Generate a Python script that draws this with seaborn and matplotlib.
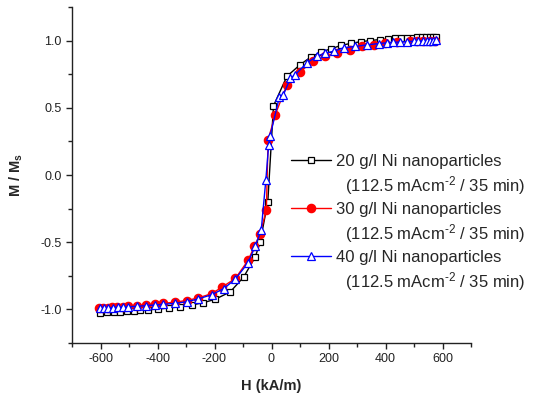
import matplotlib
matplotlib.use("Agg")
import matplotlib.pyplot as plt
from matplotlib.lines import Line2D
from matplotlib.ticker import MultipleLocator, FormatStrFormatter
import seaborn as sns

# Magnetisation curves, M/Ms versus applied field H (kA/m)
h_20 = [-601, -578, -554, -531, -507, -484, -461, -432, -397, -361, -320, -279, -239,
        -198, -145, -98, -57, -40, -13, 7, 54, 100, 138, 174, 210, 245, 280, 313, 346,
        380, 408, 432, 455, 475, 495, 512, 528, 543, 556, 567, 577]
m_20 = [-1.025, -1.023, -1.021, -1.018, -1.015, -1.012, -1.008, -1.003, -0.997, -0.990,
        -0.980, -0.967, -0.950, -0.925, -0.870, -0.760, -0.610, -0.500, -0.200, 0.515,
        0.734, 0.820, 0.878, 0.915, 0.940, 0.965, 0.980, 0.992, 1.000, 1.008, 1.012,
        1.016, 1.019, 1.021, 1.023, 1.025, 1.026, 1.027, 1.028, 1.029, 1.030]

h_30 = [-604, -590, -575, -558, -541, -522, -503, -473, -441, -409, -380, -339, -298,
        -258, -210, -174, -127, -82, -60, -40, -18, -12, 13, 54, 101, 147, 188, 229,
        276, 317, 358, 399, 440, 487, 510, 533, 555, 574]
m_30 = [-0.990, -0.988, -0.986, -0.984, -0.982, -0.979, -0.976, -0.972, -0.967, -0.961,
        -0.955, -0.946, -0.934, -0.915, -0.883, -0.835, -0.770, -0.635, -0.530, -0.440,
        -0.260, 0.260, 0.448, 0.670, 0.770, 0.846, 0.883, 0.908, 0.933, 0.957, 0.970,
        0.983, 0.987, 0.995, 0.998, 1.000, 1.000, 1.000]

h_40 = [-602, -588, -573, -557, -540, -521, -502, -472, -440, -408, -379, -338, -297,
        -257, -209, -168, -127, -83, -57, -36, -20, -10, -5, 28, 42, 66, 83, 124, 159,
        189, 218, 253, 294, 335, 376, 404, 428, 452, 475, 499, 515, 530, 545, 557, 567,
        576]
m_40 = [-0.990, -0.989, -0.988, -0.986, -0.984, -0.982, -0.980, -0.977, -0.972, -0.967,
        -0.962, -0.955, -0.943, -0.922, -0.890, -0.846, -0.775, -0.655, -0.530, -0.410,
        -0.040, 0.220, 0.290, 0.584, 0.597, 0.720, 0.746, 0.834, 0.883, 0.908, 0.920,
        0.946, 0.957, 0.968, 0.978, 0.983, 0.987, 0.990, 0.993, 0.995, 0.997, 0.998,
        0.999, 1.000, 1.000, 1.001]

series_labels = ["20 g/l Ni nanoparticles", "30 g/l Ni nanoparticles",
                 "40 g/l Ni nanoparticles"]
condition_label = "  (112.5 mAcm$^{\u20102}$ / 35 min)"

sns.set_theme(style="ticks")
plt.rcParams["font.family"] = ["Liberation Sans", "DejaVu Sans"]
plt.rcParams["axes.unicode_minus"] = False
plt.rcParams["mathtext.default"] = "regular"

fig = plt.figure(figsize=(5.33, 3.98), dpi=100)
ax = fig.add_axes([72 / 533, 1 - 343 / 398, 399 / 533, 336 / 398])

styles = [
    dict(color="black", marker="s", markersize=4.4, markerfacecolor="white",
         markeredgecolor="black"),
    dict(color="#ff0000", marker="o", markersize=6.0, markerfacecolor="#ff0000",
         markeredgecolor="#ff0000"),
    dict(color="#0000ff", marker="^", markersize=5.8, markerfacecolor="white",
         markeredgecolor="#0000ff"),
]
data = [(h_20, m_20), (h_30, m_30), (h_40, m_40)]

for (h, m), st in zip(data, styles):
    sns.lineplot(x=h, y=m, ax=ax, sort=False, estimator=None, linewidth=1.0,
                 markeredgewidth=0.9, **st)

ax.set_xlim(-700, 700)
ax.set_ylim(-1.25, 1.25)
ax.xaxis.set_major_locator(MultipleLocator(200))
ax.xaxis.set_minor_locator(MultipleLocator(100))
ax.yaxis.set_major_locator(MultipleLocator(0.5))
ax.yaxis.set_minor_locator(MultipleLocator(0.25))
ax.yaxis.set_major_formatter(FormatStrFormatter("%.1f"))

sns.despine(ax=ax)
for side in ("left", "bottom"):
    ax.spines[side].set_linewidth(1.0)
    ax.spines[side].set_color("#222222")
ax.tick_params(which="major", direction="out", length=4, width=1.0, labelsize=9,
               colors="#222222")
ax.tick_params(which="minor", direction="out", length=3, width=1.0, colors="#222222")
ax.tick_params(axis="x", which="major", pad=3)
ax.tick_params(axis="y", which="major", pad=3.5)
ax.grid(False)

ax.set_xlabel("H (kA/m)", fontsize=10.5, fontweight="bold")
ax.set_ylabel(r"M / M$_s$", fontsize=10.5, fontweight="bold")
ax.xaxis.set_label_coords(0.5, -(379 - 343) / 336)
ax.yaxis.set_label_coords(-(72 - 25) / 399, 0.5)

handles, labels = [], []
for st, lab in zip(styles, series_labels):
    handles.append(Line2D([], [], linewidth=1.0, markeredgewidth=0.9, **st))
    labels.append(lab)
    handles.append(Line2D([], [], linestyle="none", marker=None))
    labels.append(condition_label)

fig.legend(handles, labels, loc="upper left",
           bbox_to_anchor=(291 / 533, 1 - 154 / 398),
           bbox_transform=fig.transFigure, frameon=False, fontsize=12,
           borderpad=0, borderaxespad=0, handlelength=2.4, handletextpad=0.3,
           labelspacing=0.3)

fig.savefig("out.png", dpi=100)
